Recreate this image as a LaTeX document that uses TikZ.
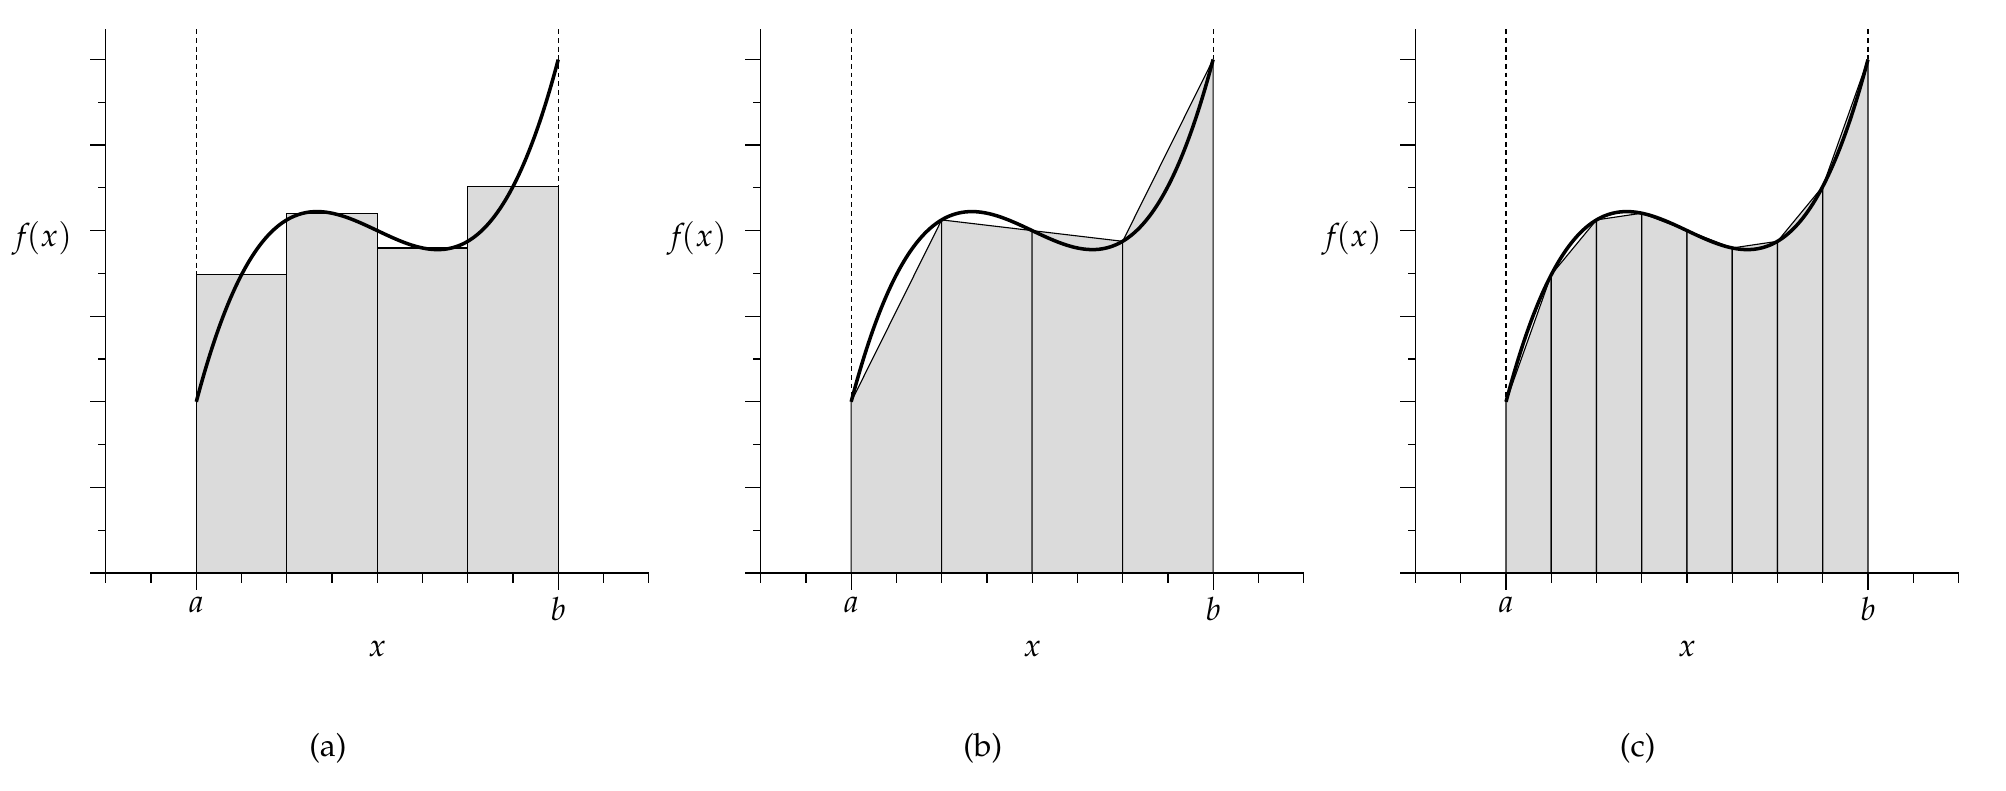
\documentclass[tikz,border=0pt]{standalone}
\usepackage[T1]{fontenc}
\usepackage{mathpazo}
\usepackage{tikz}
\usetikzlibrary{positioning, calc}
\definecolor{areagray}{gray}{0.86}

\begin{document}
\begin{tikzpicture}[x=14.14pt, y=13.375pt,
    declare function={f(\t)=8-(\t-6)/2+3*(\t-6)*(\t-6)*(\t-6)/32;},
    axisline/.style={line width=0.4pt},
    curveline/.style={line width=1.1pt, line join=round},
    piece/.style={line width=0.35pt, fill=areagray},
    limitline/.style={line width=0.4pt, dash pattern=on 1.5pt off 1.2pt},
    lbl/.style={inner sep=0pt}]

    % Page frame, same proportions as the three panels side by side
    \useasboundingbox (-33.06pt,-67.81pt) rectangle (593.8pt,179.06pt);

    % --- PANEL (a): midpoint rectangles ---
    \draw[limitline] (2,12.7) -- (2,{f(3)});
    \draw[limitline] (10,12.7) -- (10,{f(9)});
    \foreach \k in {0,...,3} {
        \pgfmathsetmacro\xl{2+2*\k}
        \draw[piece] (\xl,0) rectangle ({\xl+2},{f(\xl+1)});
    }

    % --- PANEL (b): four trapezoids ---
    \begin{scope}[xshift=204.64pt]
        \draw[limitline] (2,12.7) -- (2,{f(2)});
        \draw[limitline] (10,12.7) -- (10,{f(10)});
        \foreach \k in {0,...,3} {
            \pgfmathsetmacro\xl{2+2*\k}
            \draw[piece] (\xl,0) -- (\xl,{f(\xl)}) -- ({\xl+2},{f(\xl+2)}) -- ({\xl+2},0) -- cycle;
        }
    \end{scope}

    % --- PANEL (c): eight trapezoids ---
    \begin{scope}[xshift=409.28pt]
        \draw[limitline] (2,12.7) -- (2,{f(2)});
        \draw[limitline] (10,12.7) -- (10,{f(10)});
        \foreach \k in {0,...,7} {
            \pgfmathsetmacro\xl{2+\k}
            \draw[piece] (\xl,0) -- (\xl,{f(\xl)}) -- ({\xl+1},{f(\xl+1)}) -- ({\xl+1},0) -- cycle;
        }
    \end{scope}

    % --- AXES, TICKS, CURVE AND LABELS (all panels) ---
    \foreach \pn/\cap in {0/a,1/b,2/c} {
        \begin{scope}[xshift=\pn*204.64pt]
            % axes
            \draw[axisline] (-4.84pt,0) -- (12,0);
            \draw[axisline] (0,0) -- (0,12.7);
            % x ticks, longer at a and b
            \foreach \k in {0,...,12}
                \draw[axisline] (\k,0) -- ++(0,-3.1pt);
            \draw[axisline] (2,0) -- ++(0,-5.3pt);
            \draw[axisline] (10,0) -- ++(0,-5.3pt);
            % y ticks, long on even, short on odd
            \foreach \k in {2,4,...,12}
                \draw[axisline] (0,\k) -- ++(-4.84pt,0);
            \foreach \k in {1,3,...,11}
                \draw[axisline] (0,\k) -- ++(-2.5pt,0);

            % the function
            \draw[curveline] plot[domain=2:10, samples=90, smooth] (\x,{f(\x)});

            % labels
            \node[lbl, anchor=north] (a\pn) at (2,-0.54) {$a$};
            \node[lbl, anchor=north] (b\pn) at (10,-0.54) {$b$};
            \node[lbl, anchor=north] (x\pn) at (6,-1.57) {$x$};
            \node[lbl, anchor=base east] (fx\pn) at (-0.736,7.64) {$f\mkern-2mu(x)$};
            \node[lbl, anchor=base] (cap\pn) at (4.91,-4.29) {(\cap)};
        \end{scope}
    }

\end{tikzpicture}
\end{document}
